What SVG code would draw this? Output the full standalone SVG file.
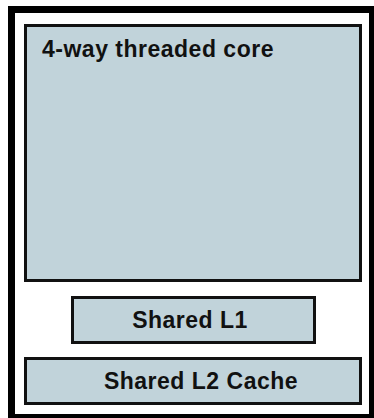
<svg xmlns="http://www.w3.org/2000/svg" width="374" height="418" viewBox="0 0 374 418">
<style>
.box{fill:#c1d3da;stroke:#111;stroke-width:3}
.t{font-family:"Liberation Sans",Arial,sans-serif;font-weight:bold;font-size:23px;letter-spacing:0.5px;fill:#111}
</style>
<rect x="0" y="0" width="374" height="418" fill="#fff"/>
<g id="frame"><rect x="11.5" y="9.5" width="361" height="408" fill="none" stroke="#000" stroke-width="7"/></g>
<g id="connectors"></g>
<g id="core"><rect class="box" x="25.5" y="25.5" width="335" height="255"/><text class="t" x="42" y="57">4-way threaded core</text></g>
<g id="l1"><rect class="box" x="72.5" y="297.5" width="242" height="45"/><text class="t" x="190" y="328" text-anchor="middle">Shared L1</text></g>
<g id="l2"><rect class="box" x="25.5" y="358.5" width="335" height="45"/><text class="t" x="201" y="389" text-anchor="middle">Shared L2 Cache</text></g>
</svg>
